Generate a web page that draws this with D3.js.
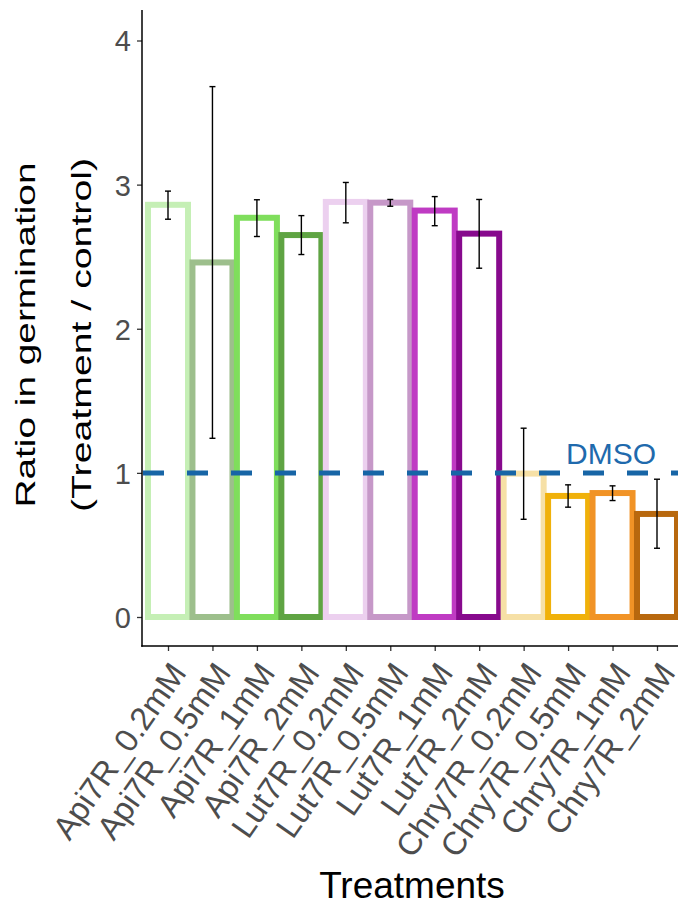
<!DOCTYPE html>
<html>
<head>
<meta charset="utf-8">
<script src="https://cdn.jsdelivr.net/npm/d3@7"></script>
<style>
  html, body { margin: 0; padding: 0; background: #ffffff; }
  svg { display: block; font-family: Arial, "Liberation Sans", sans-serif; }
</style>
</head>
<body>
<svg id="chart" width="678" height="905"></svg>
<script>
const categories = ["Api7R_0.2mM","Api7R_0.5mM","Api7R_1mM","Api7R_2mM",
  "Lut7R_0.2mM","Lut7R_0.5mM","Lut7R_1mM","Lut7R_2mM",
  "Chry7R_0.2mM","Chry7R_0.5mM","Chry7R_1mM","Chry7R_2mM"];
const ratios   = [2.86, 2.46, 2.77, 2.65, 2.88, 2.875, 2.82, 2.66, 0.995, 0.84, 0.86, 0.715];
const errLow   = [2.76, 1.24, 2.64, 2.515, 2.735, 2.85, 2.715, 2.42, 0.678, 0.762, 0.808, 0.477];
const errHigh  = [2.955, 3.68, 2.895, 2.785, 3.015, 2.897, 2.917, 2.897, 1.31, 0.917, 0.91, 0.956];
const barColors = ["#c5efb5","#9dbf8c","#7fde5c","#5fa443",
  "#ecd0ef","#c698c8","#bf3bc3","#87098d",
  "#f6e0a6","#f0b10a","#f19326","#b8680e"];
const yTicks = [0, 1, 2, 3, 4];
const refValue = 1;
const refLabel = "DMSO";
const yTitle = ["Ratio in germination", "(Treatment / control)"];
const xTitle = "Treatments";

const svg = d3.select("#chart");
const panel = {left: 142, right: 684, top: 10, bottom: 646};

const x = d3.scalePoint().domain(categories).range([168, 657]);
const step = x.step();
const y = d3.scaleLinear().domain([0, 4]).range([617, 40.5]);

const data = categories.map((c, i) => ({c, v: ratios[i], lo: errLow[i], hi: errHigh[i], col: barColors[i]}));

// bars
svg.append("g").selectAll("rect").data(data).join("rect")
  .attr("x", d => x(d.c) - step * 0.45)
  .attr("width", step * 0.9)
  .attr("y", d => y(d.v))
  .attr("height", d => y(0) - y(d.v))
  .attr("fill", "#ffffff")
  .attr("stroke", d => d.col)
  .attr("stroke-width", 6);

// error bars
const eb = svg.append("g").attr("stroke", "#000").attr("stroke-width", 1.4);
eb.selectAll("line.v").data(data).join("line").attr("class", "v")
  .attr("x1", d => x(d.c)).attr("x2", d => x(d.c))
  .attr("y1", d => y(d.lo)).attr("y2", d => y(d.hi));
eb.selectAll("line.t").data(data).join("line").attr("class", "t")
  .attr("x1", d => x(d.c) - 3).attr("x2", d => x(d.c) + 3)
  .attr("y1", d => y(d.hi)).attr("y2", d => y(d.hi));
eb.selectAll("line.b").data(data).join("line").attr("class", "b")
  .attr("x1", d => x(d.c) - 3).attr("x2", d => x(d.c) + 3)
  .attr("y1", d => y(d.lo)).attr("y2", d => y(d.lo));

// reference line
svg.append("line")
  .attr("x1", 143).attr("x2", panel.right)
  .attr("y1", y(refValue)).attr("y2", y(refValue))
  .attr("stroke", "#1765a6").attr("stroke-width", 5)
  .attr("stroke-dasharray", "21,23");
svg.append("text")
  .attr("x", 566).attr("y", y(refValue) - 9)
  .attr("font-size", 30).attr("fill", "#1f6aad")
  .text(refLabel);

// axes
const yAxis = d3.axisLeft(y).tickValues(yTicks).tickSize(5).tickPadding(6).tickFormat(d3.format("d"));
const gy = svg.append("g").attr("transform", `translate(${panel.left},0)`).call(yAxis);
gy.select(".domain").remove();
gy.selectAll(".tick line").attr("stroke", "#333").attr("stroke-width", 1.3);
gy.selectAll(".tick text").attr("font-size", 29).attr("fill", "#4d4d4d")
  .attr("font-family", "Arial, 'Liberation Sans', sans-serif").attr("dy", "0.36em");

const xAxis = d3.axisBottom(x).tickSize(5).tickPadding(0);
const gx = svg.append("g").attr("transform", `translate(0,${panel.bottom})`).call(xAxis);
gx.select(".domain").remove();
gx.selectAll(".tick line").attr("stroke", "#333").attr("stroke-width", 1.3);
gx.selectAll(".tick text")
  .attr("font-size", 32.5).attr("fill", "#4d4d4d")
  .attr("font-family", "Arial, 'Liberation Sans', sans-serif")
  .attr("text-anchor", "end")
  .attr("dy", null).attr("y", 0)
  .attr("transform", "translate(19,27) rotate(-55)");

// axis lines
svg.append("line").attr("x1", panel.left).attr("x2", panel.left)
  .attr("y1", panel.top).attr("y2", panel.bottom + 0.75)
  .attr("stroke", "#000").attr("stroke-width", 1.5);
svg.append("line").attr("x1", panel.left - 0.75).attr("x2", panel.right)
  .attr("y1", panel.bottom).attr("y2", panel.bottom)
  .attr("stroke", "#000").attr("stroke-width", 1.5);

// titles
const yt = svg.append("g").attr("transform", "translate(0,335) rotate(-90)");
yt.append("text").attr("x", 0).attr("y", 35).attr("text-anchor", "middle")
  .attr("font-size", 28).attr("fill", "#000")
  .attr("textLength", 345).attr("lengthAdjust", "spacingAndGlyphs")
  .text(yTitle[0]);
yt.append("text").attr("x", 0).attr("y", 91).attr("text-anchor", "middle")
  .attr("font-size", 28).attr("fill", "#000")
  .attr("textLength", 354).attr("lengthAdjust", "spacingAndGlyphs")
  .text(yTitle[1]);

svg.append("text").attr("x", 412).attr("y", 898).attr("text-anchor", "middle")
  .attr("font-size", 37).attr("fill", "#000").text(xTitle);
</script>
</body>
</html>
